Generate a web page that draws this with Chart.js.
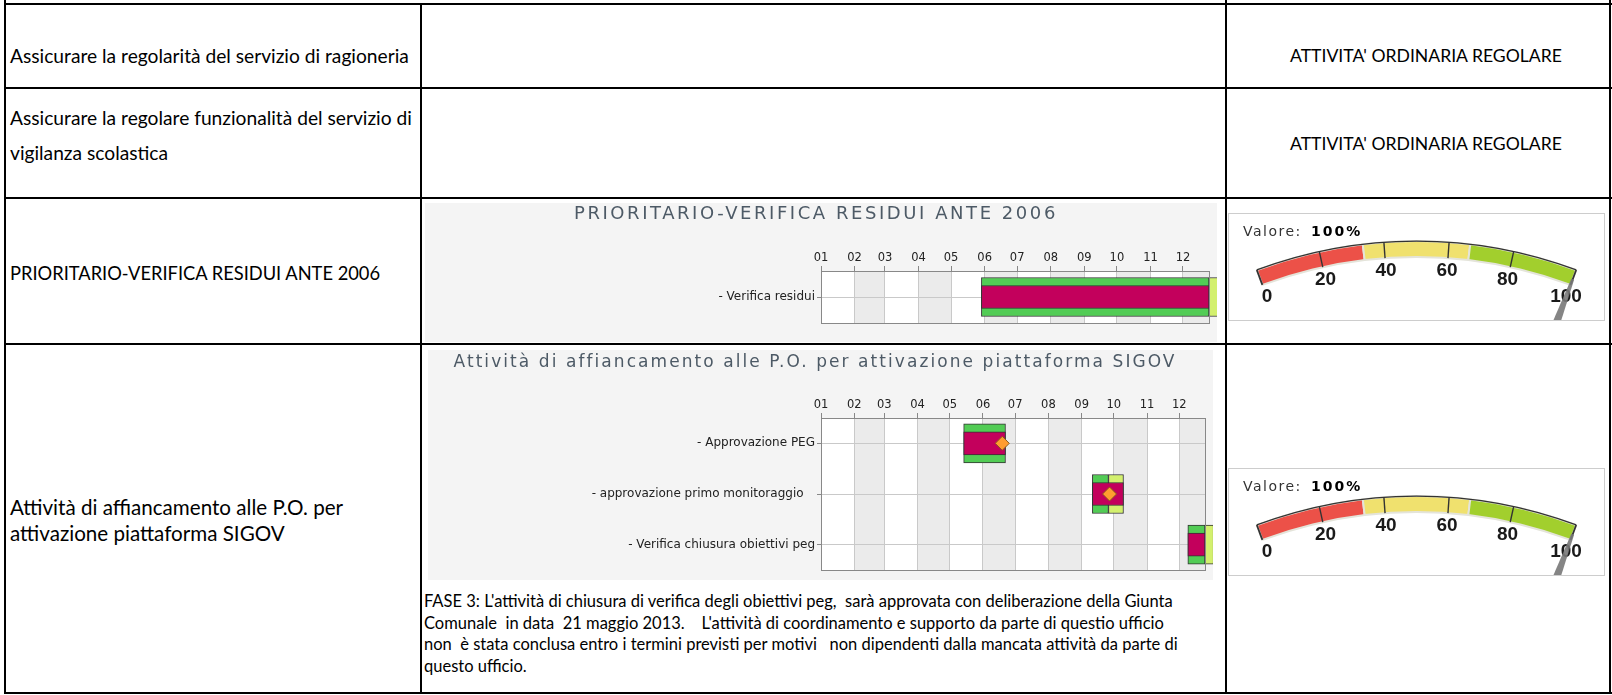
<!DOCTYPE html>
<html>
<head>
<meta charset="utf-8">
<script src="https://cdn.jsdelivr.net/npm/chart.js@4.4.1/dist/chart.umd.min.js"></script>
<style>
html, body { margin: 0; padding: 0; background: #fff; }
body { width: 1612px; height: 695px; position: relative; overflow: hidden; font-family: Lato, "Open Sans", sans-serif; color: #000; }
.hl { position: absolute; left: 4px; width: 1608px; height: 2px; background: #000; }
.vl { position: absolute; width: 2px; background: #000; }
.txt { position: absolute; font-size: 19.2px; white-space: pre; }
.right { left: 1227px; width: 366px; padding-left: 16px; text-align: center; font-size: 17.6px; line-height: 24px; }
.panel { position: absolute; background: #f4f4f4; }
.gauge { position: absolute; background: #fff; border: 1px solid #cdcdcd; width: 375px; height: 106px; left: 1228px; }
</style>
</head>
<body>

<div class="hl" style="top:3px"></div>
<div class="hl" style="top:87px"></div>
<div class="hl" style="top:197px"></div>
<div class="hl" style="top:343px"></div>
<div class="hl" style="top:692px"></div>
<div class="vl" style="left:4px;top:0;height:694px"></div>
<div class="vl" style="left:420px;top:3px;height:691px"></div>
<div class="vl" style="left:1225px;top:0;height:694px"></div>
<div class="vl" style="left:1609px;top:0;height:694px"></div>

<div class="txt" style="left:10px;top:44px;line-height:24px">Assicurare la regolarità del servizio di ragioneria</div>
<div class="txt" style="left:10px;top:100px;line-height:35px">Assicurare la regolare funzionalità del servizio di
vigilanza scolastica</div>
<div class="txt" style="left:10px;top:261px;line-height:24px;font-size:18.3px">PRIORITARIO-VERIFICA RESIDUI ANTE 2006</div>
<div class="txt" style="left:10px;top:494px;line-height:26px;font-size:20.6px">Attività di affiancamento alle P.O. per
attivazione piattaforma SIGOV</div>
<div class="txt right" style="top:44px">ATTIVITA' ORDINARIA REGOLARE</div>
<div class="txt right" style="top:132px">ATTIVITA' ORDINARIA REGOLARE</div>
<div class="txt" style="left:424px;top:591px;line-height:21.6px;font-size:16.5px">FASE 3: L'attività di chiusura di verifica degli obiettivi peg,  sarà approvata con deliberazione della Giunta
Comunale  in data  21 maggio 2013.    L'attività di coordinamento e supporto da parte di questio ufficio
non  è stata conclusa entro i termini previsti per motivi   non dipendenti dalla mancata attività da parte di
questo ufficio.</div>

<div class="panel" style="left:425px;top:203px;width:792px;height:139px"><canvas id="gantt1"></canvas></div>
<div class="panel" style="left:428px;top:350px;width:785px;height:230px"><canvas id="gantt2"></canvas></div>
<div class="gauge" style="top:213px"><canvas id="gauge1"></canvas></div>
<div class="gauge" style="top:468px"><canvas id="gauge2"></canvas></div>

<script>
// Asse dei mesi (giorni dall'inizio dell'anno)
const MONTH_LABELS = ["01","02","03","04","05","06","07","08","09","10","11","12"];
const MONTH_START = [0, 31, 59, 90, 120, 151, 181, 212, 243, 273, 304, 334];
const AXIS_END = 358;

// Gantt 1
const G1_TITLE = "PRIORITARIO-VERIFICA RESIDUI ANTE 2006";
const G1_TASKS = ["- Verifica residui"];
const G1_PLAN_START = [148];
const G1_DONE_END = [358];
const G1_PLAN_END = [372];
const G1_ACT_START = [148];
const G1_ACT_END = [358];
const G1_MILESTONE = [367];

// Gantt 2
const G2_TITLE = "Attività di affiancamento alle P.O. per attivazione piattaforma SIGOV";
const G2_TASKS = ["- Approvazione PEG", "- approvazione primo monitoraggio   ", "- Verifica chiusura obiettivi peg"];
const G2_PLAN_START = [133, 253, 342];
const G2_DONE_END = [172, 268, 358];
const G2_PLAN_END = [172, 282, 366];
const G2_ACT_START = [133, 253, 342];
const G2_ACT_END = [172, 282, 358];
const G2_MILESTONE = [169, 269, null];

// Tachimetri
const GAUGE_BANDS = [33.5, 33, 33.5];
const GAUGE_LABELS = [0, 20, 40, 60, 80, 100];
const GAUGE_VALUES = [100, 100];

const GFONT = "DejaVu Sans";

var ganttDeco = {
  id: "ganttDeco",
  beforeDraw: function(chart) {
    var ctx = chart.ctx, a = chart.chartArea, sx = chart.scales.x;
    ctx.save();
    ctx.fillStyle = "#fff";
    ctx.fillRect(a.left, a.top, a.right - a.left, a.bottom - a.top);
    ctx.fillStyle = "#ebebeb";
    for (var i = 1; i < MONTH_START.length; i += 2) {
      var x0 = sx.getPixelForValue(MONTH_START[i]);
      var x1 = sx.getPixelForValue(i + 1 < MONTH_START.length ? MONTH_START[i + 1] : AXIS_END);
      ctx.fillRect(x0, a.top, x1 - x0, a.bottom - a.top);
    }
    ctx.restore();
  },
  afterDatasetsDraw: function(chart) {
    var ctx = chart.ctx, a = chart.chartArea;
    ctx.save();
    ctx.strokeStyle = "#888";
    ctx.lineWidth = 1;
    ctx.strokeRect(Math.round(a.left) + 0.5, Math.round(a.top) + 0.5, Math.round(a.right - a.left), Math.round(a.bottom - a.top));
    ctx.restore();
  },
  afterDraw: function(chart, args, opts) {
    var ctx = chart.ctx;
    ctx.save();
    ctx.font = opts.size + "px '" + GFONT + "'";
    ctx.fillStyle = "#4d5a66";
    ctx.textBaseline = "middle";
    ctx.textAlign = "left";
    var w = ctx.measureText(opts.title).width;
    var ls = (opts.width - w) / opts.title.length;
    ctx.letterSpacing = ls.toFixed(2) + "px";
    ctx.fillText(opts.title, opts.cx - opts.width / 2, opts.cy);
    ctx.restore();
  }
};

function gantt(id, titleOpts, tasks, planStart, doneEnd, planEnd, actStart, actEnd, milestone, plotLeft, plotTop, padRight, padBottom) {
  var bar = function(label, data, color, thick, order) {
    return { label: label, data: data, backgroundColor: color, borderColor: "#333", borderWidth: 1,
      borderSkipped: false, barThickness: thick, grouped: false, clip: false, order: order };
  };
  var points = [];
  tasks.forEach(function(t, i){ if (milestone[i] != null) points.push({ x: milestone[i], y: t }); });
  var ds = [
    { type: "scatter", label: "Stato", order: 0, clip: false, data: points,
      pointStyle: "rectRot", pointRadius: 7, backgroundColor: "#ff9c30", borderColor: "#8a5a1a", borderWidth: 1 },
    bar("Effettivo", tasks.map(function(t, i){ return [actStart[i], actEnd[i]]; }), "#c3005c", 23, 1),
    bar("Completato", tasks.map(function(t, i){ return [planStart[i], doneEnd[i]]; }), "#52cc55", 39, 2),
    bar("Da completare", tasks.map(function(t, i){ return doneEnd[i] < planEnd[i] ? [doneEnd[i], planEnd[i]] : [doneEnd[i], doneEnd[i]]; }), "#d3f06e", 39, 3)
  ];
  return new Chart(document.getElementById(id), {
    type: "bar",
    data: { labels: tasks, datasets: ds },
    options: {
      indexAxis: "y",
      responsive: true, maintainAspectRatio: false, animation: false,
      layout: { padding: { left: 0, top: 0, right: padRight, bottom: padBottom } },
      plugins: {
        legend: { display: false }, tooltip: { enabled: false },
        ganttDeco: titleOpts
      },
      scales: {
        x: {
          type: "linear", position: "top", min: 0, max: AXIS_END,
          afterBuildTicks: function(s){ s.ticks = MONTH_START.map(function(v){ return { value: v }; }); },
          afterFit: function(s){ s.height = plotTop; },
          ticks: {
            autoSkip: false, maxRotation: 0, padding: 1, color: "#222",
            font: { family: GFONT, size: 11.5 },
            callback: function(v){ return MONTH_LABELS[MONTH_START.indexOf(v)]; }
          },
          grid: { color: "#c9c9c9", tickColor: "#888", tickLength: 5 },
          border: { color: "#888" }
        },
        y: {
          type: "category", offset: true,
          afterFit: function(s){ s.width = plotLeft; },
          ticks: { padding: 2, color: "#222", font: { family: GFONT, size: 12 } },
          grid: { offset: false, color: "#c9c9c9", tickColor: "#888", tickLength: 4 },
          border: { color: "#888" }
        }
      }
    },
    plugins: [ganttDeco]
  });
}

gantt("gantt1", { title: G1_TITLE, size: 18, width: 484, cx: 391, cy: 11 },
  G1_TASKS, G1_PLAN_START, G1_DONE_END, G1_PLAN_END, G1_ACT_START, G1_ACT_END, G1_MILESTONE, 396, 68, 5, 19);
gantt("gantt2", { title: G2_TITLE, size: 17, width: 723, cx: 387, cy: 13 },
  G2_TASKS, G2_PLAN_START, G2_DONE_END, G2_PLAN_END, G2_ACT_START, G2_ACT_END, G2_MILESTONE, 393, 68, 6, 10);

/* Tachimetro: arco piatto di grande raggio */
var GAUGE_ROT = -20.5, GAUGE_SPAN = 41;
var gaugeDeco = {
  id: "gaugeDeco",
  afterDatasetsDraw: function(chart, args, opts) {
    var ctx = chart.ctx, arc = chart.getDatasetMeta(0).data[0];
    var cx = arc.x, cy = arc.y, ro = arc.outerRadius, ri = arc.innerRadius;
    var a0 = (GAUGE_ROT - 90) * Math.PI / 180, span = GAUGE_SPAN * Math.PI / 180;
    var ang = function(v){ return a0 + v / 100 * span; };
    ctx.save();
    // bordo esterno e tacche
    ctx.strokeStyle = "#333"; ctx.lineWidth = 1.3;
    ctx.beginPath(); ctx.arc(cx, cy, ro, ang(0), ang(100)); ctx.stroke();
    GAUGE_LABELS.forEach(function(v){
      var a = ang(v);
      ctx.lineWidth = (v === 0 || v === 100) ? 1.8 : 1.4;
      ctx.beginPath();
      ctx.moveTo(cx + ri * Math.cos(a), cy + ri * Math.sin(a));
      ctx.lineTo(cx + ro * Math.cos(a), cy + ro * Math.sin(a));
      ctx.stroke();
    });
    // etichette
    ctx.fillStyle = "#1a1a1a";
    ctx.font = "bold 19px 'Liberation Sans'";
    ctx.textAlign = "center"; ctx.textBaseline = "middle";
    GAUGE_LABELS.forEach(function(v){
      var a = ang(v), r = ro - 29;
      ctx.fillText(String(v), cx + r * Math.cos(a), cy + r * Math.sin(a));
    });
    // lancetta
    var av = ang(opts.value), px = -Math.sin(av), py = Math.cos(av);
    var r1 = ro - 10, r2 = ro - 100;
    ctx.fillStyle = "rgba(120,120,120,0.9)";
    ctx.beginPath();
    ctx.moveTo(cx + r1 * Math.cos(av) + px * 1.5, cy + r1 * Math.sin(av) + py * 1.5);
    ctx.lineTo(cx + r1 * Math.cos(av) - px * 1.5, cy + r1 * Math.sin(av) - py * 1.5);
    ctx.lineTo(cx + r2 * Math.cos(av) - px * 6, cy + r2 * Math.sin(av) - py * 6);
    ctx.lineTo(cx + r2 * Math.cos(av) + px * 6, cy + r2 * Math.sin(av) + py * 6);
    ctx.closePath(); ctx.fill();
    // testo valore
    ctx.textAlign = "left";
    ctx.fillStyle = "#333";
    ctx.font = "14px '" + GFONT + "'";
    ctx.letterSpacing = "1.5px";
    ctx.fillText("Valore:", 14, 18);
    ctx.fillStyle = "#000";
    ctx.font = "bold 14px '" + GFONT + "'";
    ctx.letterSpacing = "2px";
    ctx.fillText(opts.value + "%", 82, 18);
    ctx.restore();
  }
};

function gauge(id, value) {
  return new Chart(document.getElementById(id), {
    type: "doughnut",
    data: {
      labels: ["basso", "medio", "alto"],
      datasets: [{ data: GAUGE_BANDS, backgroundColor: ["#ec5148", "#f0e16e", "#a2cf2d"], borderColor: "#e4e4da", borderWidth: 2 }]
    },
    options: {
      responsive: true, maintainAspectRatio: false, animation: false,
      rotation: GAUGE_ROT, circumference: GAUGE_SPAN, radius: 456, cutout: "96.5%",
      layout: { padding: { bottom: 8 } },
      plugins: { legend: { display: false }, tooltip: { enabled: false }, gaugeDeco: { value: value } }
    },
    plugins: [gaugeDeco]
  });
}
gauge("gauge1", GAUGE_VALUES[0]);
gauge("gauge2", GAUGE_VALUES[1]);
</script>
</body>
</html>
